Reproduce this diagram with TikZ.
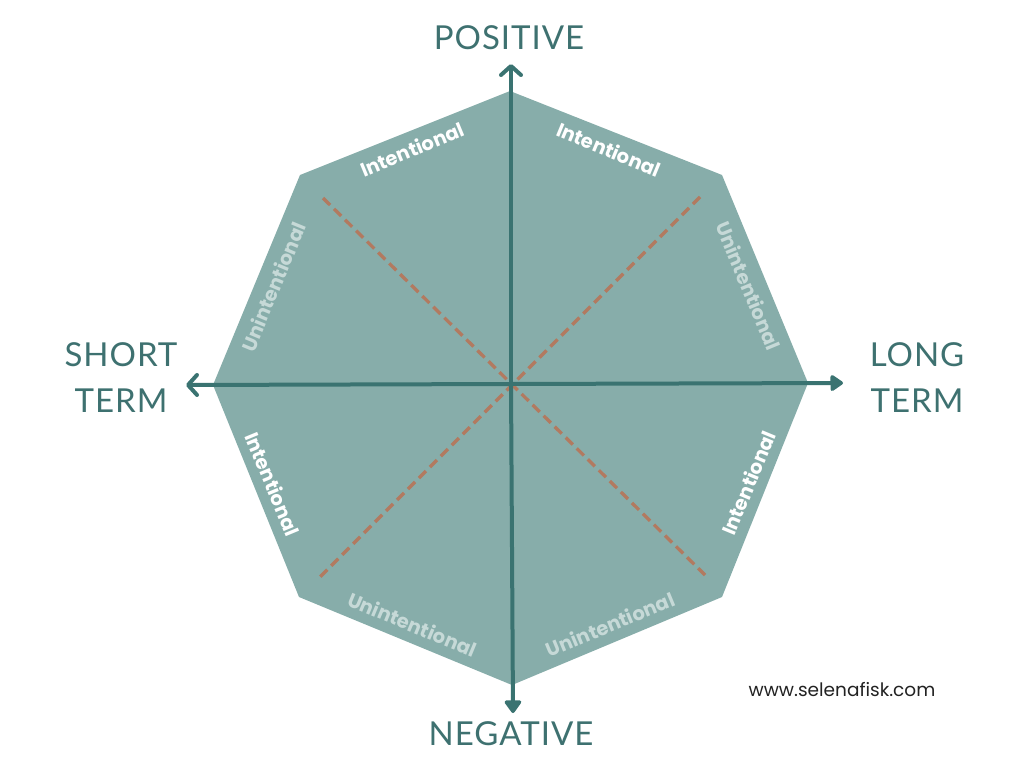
\documentclass[tikz,border=0pt]{standalone}
\usepackage{fontspec}
\setmainfont{Poppins}
\newfontfamily\titlefont{Lato}[LetterSpace=3]
\usetikzlibrary{arrows.meta,calc}
\definecolor{octfill}{HTML}{87ADAA}
\definecolor{axiscol}{HTML}{3A7371}
\definecolor{titlecol}{HTML}{3E7170}
\definecolor{dashcol}{HTML}{B27A60}
\definecolor{unint}{HTML}{C6D9D7}
\definecolor{webcol}{HTML}{222222}
\begin{document}
\begin{tikzpicture}[x=1pt,y=-1pt,
  axis/.style={draw=axiscol,line width=4pt},
  diag/.style={draw=dashcol,line width=3.3pt,dash pattern=on 10pt off 5.5pt},
  ttl/.style={text=titlecol,inner sep=0pt,font=\titlefont\fontsize{33}{46}\selectfont,align=center},
  intl/.style={text=white,inner sep=0pt,font=\bfseries\fontsize{19.5}{19.5}\selectfont},
  unintl/.style={text=unint,inner sep=0pt,font=\bfseries\fontsize{19.5}{19.5}\selectfont}]
\useasboundingbox (0,0) rectangle (1024,768);
% octagon vertices
\coordinate (vT)  at (510,91);
\coordinate (vTR) at (722,175);
\coordinate (vR)  at (808,383);
\coordinate (vBR) at (722,597);
\coordinate (vB)  at (512,685);
\coordinate (vBL) at (299,597);
\coordinate (vL)  at (213,385);
\coordinate (vTL) at (300,175);
\coordinate (O)   at (511,384);
% axis tips
\coordinate (tT) at (511,64);
\coordinate (tB) at (513,713);
\coordinate (tL) at (186,385);
\coordinate (tR) at (843,383);
% diagonal ends
\coordinate (dTL) at (323,198);
\coordinate (dBR) at (705,575);
\coordinate (dTR) at (700,197);
\coordinate (dBL) at (320,577);

\fill[octfill] (vT) -- (vTR) -- (vR) -- (vBR) -- (vB) -- (vBL) -- (vL) -- (vTL) -- cycle;

\draw[diag] (dTL) -- (dBR);
\draw[diag] (dTR) -- (dBL);

\draw[axis,-{Straight Barb[length=9pt,width=20pt,round]}] (O) -- (tT);
\draw[axis,-{Triangle[length=14pt,width=19pt,round]}] (O) -- (tB);
\draw[axis,-{Straight Barb[length=9pt,width=20pt,round]}] (O) -- (tL);
\draw[axis,-{Triangle[length=14pt,width=18pt,round]}] (O) -- (tR);

% edge labels
\node[intl,rotate=22.5] (e1) at ($ ($(vTL)!.5!(vT)$)!18pt!(O) $) {Intentional};
\node[intl,rotate=-22.5] (e2) at ($ ($(vT)!.5!(vTR)$)!18pt!(O) $) {Intentional};
\node[unintl,rotate=-67.5] (e3) at ($ ($(vTR)!.5!(vR)$)!18pt!(O) $) {Unintentional};
\node[intl,rotate=67.5] (e4) at ($ ($(vR)!.5!(vBR)$)!18pt!(O) $) {Intentional};
\node[unintl,rotate=22.5] (e5) at ($ ($(vBR)!.5!(vB)$)!18pt!(O) $) {Unintentional};
\node[unintl,rotate=-22.5] (e6) at ($ ($(vB)!.5!(vBL)$)!18pt!(O) $) {Unintentional};
\node[intl,rotate=-67.5] (e7) at ($ ($(vBL)!.5!(vL)$)!18pt!(O) $) {Intentional};
\node[unintl,rotate=67.5] (e8) at ($ ($(vL)!.5!(vTL)$)!18pt!(O) $) {Unintentional};

% titles
\node[ttl] (pos) at (509,38) {POSITIVE};
\node[ttl] (neg) at (511,734) {NEGATIVE};
\node[ttl] (st) at (121,378) {SHORT\\TERM};
\node[ttl] (lt) at (917,378) {LONG\\TERM};

\node[text=webcol,inner sep=0pt,font=\fontsize{18.5}{18.5}\selectfont] (web) at (842,690) {www.selenafisk.com};
\end{tikzpicture}
\end{document}
